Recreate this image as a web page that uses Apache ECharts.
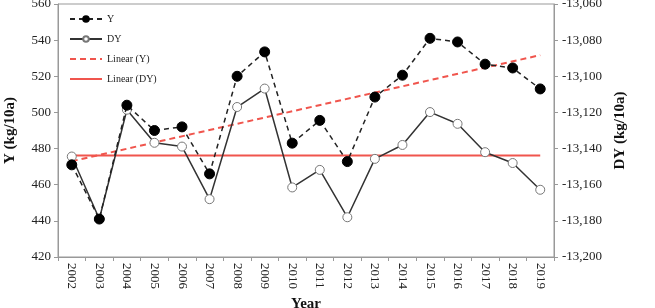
<!DOCTYPE html>
<html><head><meta charset="utf-8">
<script src="https://cdn.jsdelivr.net/npm/echarts@6/dist/echarts.min.js"></script>
<style>html,body{margin:0;padding:0;background:#fff}#c{width:655px;height:308px}</style>
</head><body><div id="c"></div>
<script>
const years = ['2002','2003','2004','2005','2006','2007','2008','2009','2010','2011','2012','2013','2014','2015','2016','2017','2018','2019'];
const yValues = [471, 441, 504, 490, 492, 466, 520, 533.5, 483, 495.6, 472.8, 508.5, 520.6, 541, 539, 526.7, 524.6, 513];
const dyValues = [-13144.4, -13179, -13118.5, -13136.8, -13138.9, -13168, -13117, -13106.8, -13161.5, -13151.8, -13178, -13145.7, -13138, -13119.8, -13126.3, -13142, -13148, -13162.8];
const linearY = [473, null, null, null, null, null, null, null, null, null, null, null, null, null, null, null, null, 531.7];
const linearDY = [-13143.8, null, null, null, null, null, null, null, null, null, null, null, null, null, null, null, null, -13143.8];

const FONT = 'Liberation Serif';
const fmt = v => { const s = String(Math.abs(v)); const t = s.replace(/\B(?=(\d{3})+(?!\d))/g, ','); return (v < 0 ? '-' : '') + t; };
const RED = '#f0554d';

const chart = echarts.init(document.getElementById('c'));
chart.setOption({
  animation: false,
  textStyle: { fontFamily: FONT },
  grid: { left: 58, right: 101, top: 4, bottom: 51, show: true, borderColor: '#999', borderWidth: 1, containLabel: false, outerBoundsMode: 'none' },
  legend: {
    orient: 'vertical', left: 64, top: 9, itemWidth: 32, itemHeight: 7, itemGap: 10,
    textStyle: { fontFamily: FONT, fontSize: 10, color: '#222' },
    data: [
      { name: 'Y' },
      { name: 'DY' },
      { name: 'Linear (Y)', itemStyle: { opacity: 0 } },
      { name: 'Linear (DY)', itemStyle: { opacity: 0 } }
    ]
  },
  xAxis: {
    type: 'category', data: years, boundaryGap: true,
    name: 'Year', nameLocation: 'middle', nameGap: 39,
    nameTextStyle: { fontFamily: FONT, fontSize: 15, fontWeight: 'bold', color: '#111' },
    axisLine: { lineStyle: { color: '#999' } },
    axisTick: { show: true, alignWithLabel: false, length: 4, lineStyle: { color: '#999' } },
    axisLabel: { rotate: -90, fontFamily: FONT, fontSize: 13, color: '#222', margin: 6 }
  },
  yAxis: [
    {
      type: 'value', min: 420, max: 560, interval: 20,
      name: 'Y (kg/10a)', nameLocation: 'middle', nameGap: 40,
      nameTextStyle: { fontFamily: FONT, fontSize: 15, fontWeight: 'bold', color: '#111' },
      axisLine: { show: true, lineStyle: { color: '#999' } },
      axisTick: { show: true, length: 4, lineStyle: { color: '#999' } },
      splitLine: { show: false },
      axisLabel: { fontFamily: FONT, fontSize: 13, color: '#222', margin: 7 }
    },
    {
      type: 'value', min: -13200, max: -13060, interval: 20, position: 'right',
      name: 'DY (kg/10a)', nameLocation: 'middle', nameGap: 57,
      nameTextStyle: { fontFamily: FONT, fontSize: 15, fontWeight: 'bold', color: '#111' },
      axisLine: { show: true, lineStyle: { color: '#999' } },
      axisTick: { show: true, length: 4, lineStyle: { color: '#999' } },
      splitLine: { show: false },
      axisLabel: { fontFamily: FONT, fontSize: 13, color: '#222', margin: 8, formatter: fmt }
    }
  ],
  series: [
    {
      name: 'Linear (Y)', type: 'line', yAxisIndex: 0, data: linearY, connectNulls: true,
      symbol: 'none', lineStyle: { color: RED, width: 2, type: [6, 4] }, itemStyle: { color: RED }, z: 1
    },
    {
      name: 'Linear (DY)', type: 'line', yAxisIndex: 1, data: linearDY, connectNulls: true,
      symbol: 'none', lineStyle: { color: RED, width: 2 }, itemStyle: { color: RED }, z: 1
    },
    {
      name: 'DY', type: 'line', yAxisIndex: 1, data: dyValues,
      symbol: 'circle', symbolSize: 9, showAllSymbol: true,
      lineStyle: { color: '#333', width: 1.5 },
      itemStyle: { color: '#fff', borderColor: '#777', borderWidth: 1 }, z: 2
    },
    {
      name: 'Y', type: 'line', yAxisIndex: 0, data: yValues,
      symbol: 'circle', symbolSize: 10, showAllSymbol: true,
      lineStyle: { color: '#222', width: 1.5, type: [5, 4] },
      itemStyle: { color: '#000', borderColor: '#000', borderWidth: 1 }, z: 3
    }
  ]
});
</script></body></html>
